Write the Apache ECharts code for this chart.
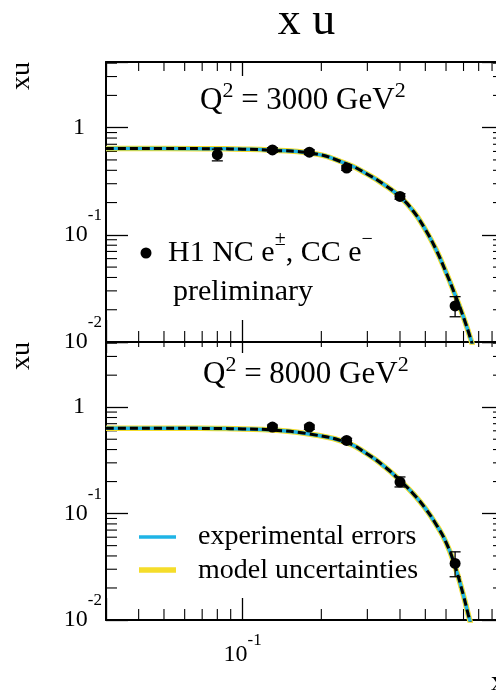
<!DOCTYPE html>
<html><head><meta charset="utf-8">
<script src="https://cdn.jsdelivr.net/npm/echarts@6/dist/echarts.min.js"></script>
<style>html,body{margin:0;padding:0;background:#fff}#c{width:496px;height:697px}</style>
</head><body><div id="c"></div>
<script>
// ---- axis ranges / ticks ----
const xMin = 0.03, xMax = 1, yMin = 0.01, yMax = 4.1;
const xMinorTicks = [0.04,0.05,0.06,0.07,0.08,0.09,0.2,0.3,0.4,0.5,0.6,0.7,0.8,0.9];
const yMinorTicks = [0.02,0.03,0.04,0.05,0.06,0.07,0.08,0.09,0.2,0.3,0.4,0.5,0.6,0.7,0.8,0.9,2,3,4];

// ---- Q2 = 3000 GeV2 ----
const ptsXTop  = [0.08, 0.13, 0.18, 0.25, 0.40, 0.65];
const ptsYTop  = [0.56, 0.62, 0.59, 0.42, 0.228, 0.0217];
const errLoTop = [0.49, 0.59, 0.56, 0.40, 0.215, 0.0172];
const errHiTop = [0.63, 0.65, 0.62, 0.44, 0.242, 0.0265];
const curveXTop = [0.03,0.05,0.08,0.10,0.13,0.18,0.25,0.30,0.35,0.40,0.45,0.50,0.55,0.60,0.65,0.70,0.75,0.76];
const curveYTop = [0.64,0.64,0.635,0.63,0.615,0.582,0.46,0.368,0.291,0.227,0.166,0.112,0.0726,0.0447,0.0275,0.017,0.0102,0.0089];

// ---- Q2 = 8000 GeV2 ----
const ptsXBot  = [0.13, 0.18, 0.25, 0.40, 0.65];
const ptsYBot  = [0.65, 0.65, 0.487, 0.198, 0.034];
const errLoBot = [0.61, 0.62, 0.465, 0.178, 0.0255];
const errHiBot = [0.68, 0.68, 0.51, 0.221, 0.0437];
const curveXBot = [0.03,0.05,0.08,0.10,0.13,0.18,0.25,0.30,0.35,0.40,0.45,0.50,0.55,0.60,0.65,0.70,0.73,0.74,0.75];
const curveYBot = [0.635,0.635,0.63,0.625,0.61,0.56,0.465,0.363,0.275,0.205,0.153,0.112,0.079,0.0537,0.0318,0.0169,0.0112,0.0099,0.0085];

const FONT = '"Liberation Serif", "Times New Roman", serif';
const CYAN = '#1fb4e6', YELLOW = '#f5dd2a';

function pairs(xs, ys){ return xs.map((x,i)=>[x, ys[i]]); }
function errData(xs, ys, lo, hi){ return xs.map((x,i)=>[x, ys[i], lo[i], hi[i]]); }

function yTickFmt(v){
  const e = Math.log10(v), r = Math.round(e);
  if (Math.abs(e - r) > 1e-6) return '';
  if (r === 0) return '{b|1}{sp| }';
  return '{b|10}{s|' + r + '}';
}
function xTickFmt(v){
  const e = Math.log10(v), r = Math.round(e);
  if (Math.abs(e - r) > 1e-6 || r === 0) return '';
  return '{b|10}{s|' + r + '}';
}

function logAxis(extra){
  return Object.assign({
    type: 'log', logBase: 10,
    axisLine: {show: true, onZero: false, lineStyle: {color: '#000', width: 2}},
    axisTick: {show: true, inside: true, length: 22, lineStyle: {color: '#000', width: 1.3}},
    splitLine: {show: false},
    axisLabel: {show: false}
  }, extra);
}

const yLabel = {
  show: true, margin: 4, formatter: yTickFmt,
  rich: {
    b: {fontFamily: FONT, fontSize: 24, color: '#000', lineHeight: 56},
    s: {fontFamily: FONT, fontSize: 17, color: '#000', lineHeight: 17, verticalAlign: 'top'},
    sp: {width: 17, fontSize: 10}
  }
};
const xLabel = {
  show: true, margin: 12, formatter: xTickFmt,
  rich: {
    b: {fontFamily: FONT, fontSize: 24, color: '#000', lineHeight: 46},
    s: {fontFamily: FONT, fontSize: 17, color: '#000', lineHeight: 17, verticalAlign: 'top'}
  }
};

function errItem(params, api){
  const x = api.value(0), lo = api.value(2), hi = api.value(3);
  const p1 = api.coord([x, lo]), p2 = api.coord([x, hi]);
  const c = 5.5, st = {stroke: '#000', lineWidth: 1.3};
  return {type: 'group', children: [
    {type: 'line', shape: {x1: p1[0], y1: p1[1], x2: p2[0], y2: p2[1]}, style: st},
    {type: 'line', shape: {x1: p1[0]-c, y1: p1[1], x2: p1[0]+c, y2: p1[1]}, style: st},
    {type: 'line', shape: {x1: p2[0]-c, y1: p2[1], x2: p2[0]+c, y2: p2[1]}, style: st}
  ]};
}
function xMinorItem(lenB, lenT){
  return function(params, api){
    const v = api.value(0);
    const b = api.coord([v, yMin]), t = api.coord([v, yMax]);
    const st = {stroke: '#000', lineWidth: 1.1};
    return {type: 'group', children: [
      {type: 'line', shape: {x1: b[0], y1: b[1], x2: b[0], y2: b[1]-lenB}, style: st},
      {type: 'line', shape: {x1: t[0], y1: t[1], x2: t[0], y2: t[1]+lenT}, style: st}
    ]};
  };
}
function yMinorItem(params, api){
  const v = api.value(1);
  const l = api.coord([xMin, v]), r = api.coord([xMax, v]);
  const st = {stroke: '#000', lineWidth: 1.1};
  return {type: 'group', children: [
    {type: 'line', shape: {x1: l[0], y1: l[1], x2: l[0]+11, y2: l[1]}, style: st},
    {type: 'line', shape: {x1: r[0], y1: r[1], x2: r[0]-11, y2: r[1]}, style: st}
  ]};
}

function panelSeries(g, cx, cy, px, py, lo, hi, topLen){
  const xi = g*2, yi = g*2;
  const common = {xAxisIndex: xi, yAxisIndex: yi, silent: true, animation: false};
  const lineBase = {type: 'line', data: pairs(cx, cy), showSymbol: false, smooth: 0.5, clip: true};
  return [
    Object.assign({type: 'custom', renderItem: xMinorItem(11, topLen), data: xMinorTicks.map(v=>[v, yMin]), z: 1}, common),
    Object.assign({type: 'custom', renderItem: yMinorItem, data: yMinorTicks.map(v=>[xMin, v]), z: 1}, common),
    Object.assign({}, lineBase, {lineStyle: {color: YELLOW, width: 5.5}, z: 2}, common),
    Object.assign({}, lineBase, {lineStyle: {color: CYAN, width: 3.5}, z: 3}, common),
    Object.assign({}, lineBase, {lineStyle: {color: '#000', width: 3, type: [8, 4]}, z: 4}, common),
    Object.assign({type: 'custom', renderItem: errItem, data: errData(px, py, lo, hi), encode: {x: 0, y: 1}, z: 5}, common),
    Object.assign({type: 'scatter', data: pairs(px, py), symbol: 'circle', symbolSize: 11,
      itemStyle: {color: '#000', opacity: 1}, z: 6}, common)
  ];
}

const chart = echarts.init(document.getElementById('c'), null, {renderer: 'canvas'});

const supQ = {
  n: {fontFamily: FONT, fontSize: 31, lineHeight: 42, color: '#000'},
  s: {fontFamily: FONT, fontSize: 22, lineHeight: 22, color: '#000', verticalAlign: 'top'}
};
const supL = {
  n: {fontFamily: FONT, fontSize: 30, lineHeight: 47, color: '#000'},
  s: {fontFamily: FONT, fontSize: 20, lineHeight: 20, color: '#000', verticalAlign: 'top'}
};
function plain(x, y, text, size, align){
  return {type: 'text', x: x, y: y, silent: true, z: 100,
    style: {text: text, fontFamily: FONT, fontSize: size, fill: '#000', textAlign: align || 'left', textVerticalAlign: 'middle'}};
}

chart.setOption({
  backgroundColor: '#fff',
  animation: false,
  grid: [
    {left: 106, top: 62, width: 398, height: 280, containLabel: false, outerBoundsMode: 'none'},
    {left: 106, top: 342, width: 398, height: 278, containLabel: false, outerBoundsMode: 'none'}
  ],
  xAxis: [
    logAxis({gridIndex: 0, position: 'bottom', min: xMin, max: xMax}),
    logAxis({gridIndex: 0, position: 'top', min: xMin, max: xMax, axisTick: {show: true, inside: true, length: 14, lineStyle: {color: '#000', width: 1.3}}}),
    logAxis({gridIndex: 1, position: 'bottom', min: xMin, max: xMax, axisLabel: xLabel}),
    logAxis({gridIndex: 1, position: 'top', min: xMin, max: xMax, axisTick: {show: true, inside: true, length: 11, lineStyle: {color: '#000', width: 1.3}}})
  ],
  yAxis: [
    logAxis({gridIndex: 0, position: 'left', min: yMin, max: yMax, axisLabel: yLabel}),
    logAxis({gridIndex: 0, position: 'right', min: yMin, max: yMax}),
    logAxis({gridIndex: 1, position: 'left', min: yMin, max: yMax, axisLabel: yLabel}),
    logAxis({gridIndex: 1, position: 'right', min: yMin, max: yMax})
  ],
  series: [].concat(
    panelSeries(0, curveXTop, curveYTop, ptsXTop, ptsYTop, errLoTop, errHiTop, 9),
    panelSeries(1, curveXBot, curveYBot, ptsXBot, ptsYBot, errLoBot, errHiBot, 5)
  ),
  graphic: [
    plain(306.5, 22, 'x u', 46, 'center'),
    {type: 'text', x: 22, y: 76, rotation: Math.PI/2, silent: true,
      style: {text: 'xu', fontFamily: FONT, fontSize: 28, fill: '#000', textAlign: 'center', textVerticalAlign: 'middle'}},
    {type: 'text', x: 22, y: 356, rotation: Math.PI/2, silent: true,
      style: {text: 'xu', fontFamily: FONT, fontSize: 28, fill: '#000', textAlign: 'center', textVerticalAlign: 'middle'}},
    {type: 'text', x: 200, y: 101, silent: true,
      style: {text: '{n|Q}{s|2}{n| = 3000 GeV}{s|2}', rich: supQ, textAlign: 'left', textVerticalAlign: 'middle'}},
    {type: 'text', x: 203, y: 375, silent: true,
      style: {text: '{n|Q}{s|2}{n| = 8000 GeV}{s|2}', rich: supQ, textAlign: 'left', textVerticalAlign: 'middle'}},
    {type: 'circle', shape: {cx: 146, cy: 253, r: 5.5}, style: {fill: '#000'}, silent: true},
    {type: 'text', x: 168, y: 253, silent: true,
      style: {text: '{n|H1 NC e}{s|±}{n|, CC e}{s|−}', rich: supL, textAlign: 'left', textVerticalAlign: 'middle'}},
    plain(173, 292, 'preliminary', 30),
    {type: 'line', shape: {x1: 139, y1: 537, x2: 176, y2: 537}, style: {stroke: CYAN, lineWidth: 3.5}, silent: true},
    plain(198, 536.5, 'experimental errors', 28),
    {type: 'line', shape: {x1: 139, y1: 570, x2: 176, y2: 570}, style: {stroke: YELLOW, lineWidth: 5.5}, silent: true},
    plain(198, 570.5, 'model uncertainties', 28),
    plain(491, 683, 'x', 28)
  ]
});
</script>
</body></html>
